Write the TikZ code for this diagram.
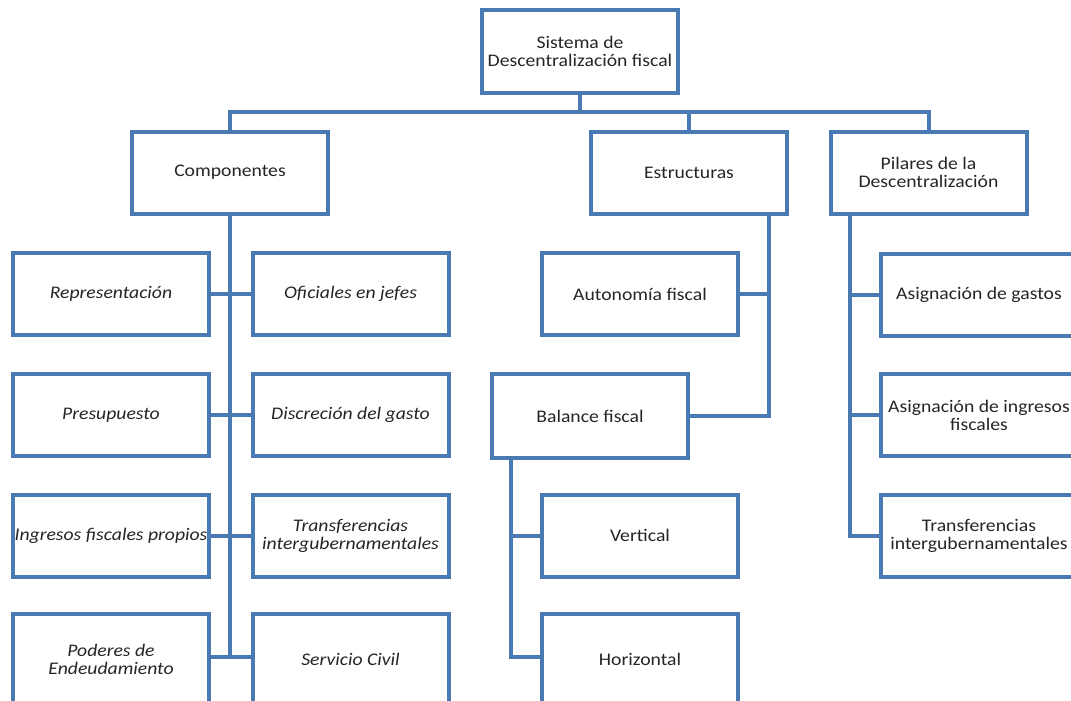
\documentclass[tikz,border=0pt]{standalone}
\usepackage{fontspec}
\setmainfont{Carlito}[FakeStretch=1.11]
\definecolor{boxblue}{HTML}{4A7AB4}
\definecolor{txt}{HTML}{262626}
\begin{document}
\begin{tikzpicture}[x=0.75pt,y=-0.75pt,
  box/.style={draw=boxblue,line width=3pt,fill=white,minimum width=196*0.75pt,minimum height=82*0.75pt,inner sep=0pt,align=center,text=txt,font=\fontsize{13.3}{13.6}\selectfont},
  ibox/.style={box,font=\fontsize{13.3}{13.6}\selectfont\itshape},
  conn/.style={draw=boxblue,line width=3pt,line cap=rect}]
\clip (0,0) rectangle (1071,700);
\fill[white] (0,0) rectangle (1071,700);
% top level
\node[box,minimum height=83*0.75pt] (top) at (580,51.5) {Sistema de\\Descentralización fiscal};
\node[box] (comp) at (230,172.5) {Componentes};
\node[box] (est) at (689,172.5) {Estructuras};
\node[box] (pil) at (928.5,172.5) {Pilares de la\\Descentralización};
% componentes children
\node[ibox] (rep) at (111,294) {Representación};
\node[ibox] (ofi) at (350.5,294) {Oficiales en jefes};
\node[ibox] (pre) at (111,415) {Presupuesto};
\node[ibox] (dis) at (350.5,415) {Discreción del gasto};
\node[ibox] (ing) at (111,535.5) {Ingresos fiscales propios};
\node[ibox] (tra) at (350.5,535.5) {Transferencias\\intergubernamentales};
\node[ibox,minimum height=90*0.75pt] (pod) at (111,659) {Poderes de\\Endeudamiento};
\node[ibox,minimum height=90*0.75pt] (ser) at (350.5,659) {Servicio Civil};
% estructuras children
\node[box] (aut) at (640,294) {Autonomía fiscal};
\node[box,minimum height=84*0.75pt] (bal) at (590,416) {Balance fiscal};
\node[box] (ver) at (640,535.5) {Vertical};
\node[box,minimum height=90*0.75pt] (hor) at (640,659) {Horizontal};
% pilares children
\node[box] (asg) at (979,294.5) {Asignación de gastos};
\node[box] (asi) at (979,415) {Asignación de ingresos\\fiscales};
\node[box] (tri) at (979,535.5) {Transferencias\\intergubernamentales};
% junction coordinates
\coordinate (busL) at (230,112);
\coordinate (busR) at (928.5,112);
\coordinate (ej) at (769,0);
\coordinate (bj) at (511,0);
\coordinate (pj) at (850,0);
% top bus
\draw[conn] (top.south) -- (top.south |- busL);
\draw[conn] (comp.north) -- (busL) -- (busR) -- (pil.north);
\draw[conn] (est.north) -- (est.north |- busL);
% componentes trunk
\draw[conn] (comp.south) -- (comp.south |- 0,657);
\draw[conn] (rep.east) -- (ofi.west);
\draw[conn] (pre.east) -- (dis.west);
\draw[conn] (ing.east) -- (tra.west);
\draw[conn] (pod.east |- 0,657) -- (ser.west |- 0,657);
% estructuras
\draw[conn] (est.south -| ej) -- (bal.east -| ej) -- (bal.east);
\draw[conn] (aut.east) -- (aut.east -| ej);
% balance
\draw[conn] (bal.south -| bj) -- (bj |- 0,657) -- (hor.west |- 0,657);
\draw[conn] (ver.west) -- (ver.west -| bj);
% pilares
\draw[conn] (pil.south -| pj) -- (pj |- tri.west) -- (tri.west);
\draw[conn] (asg.west) -- (asg.west -| pj);
\draw[conn] (asi.west) -- (asi.west -| pj);
\end{tikzpicture}
\end{document}
